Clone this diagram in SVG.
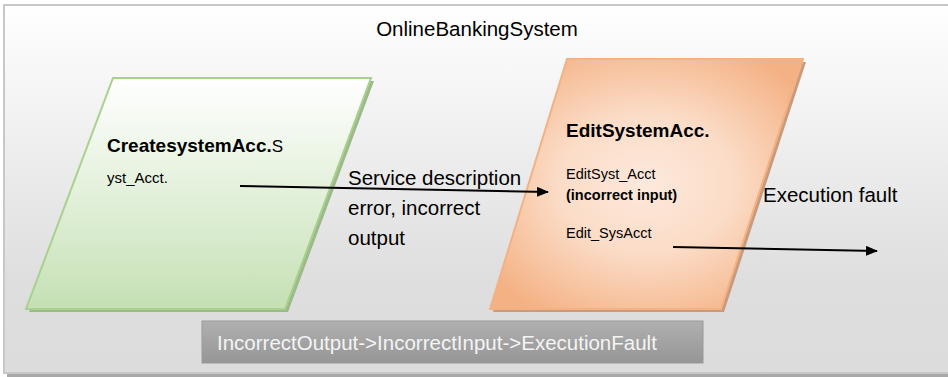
<svg xmlns="http://www.w3.org/2000/svg" width="948" height="377" viewBox="0 0 948 377">
  <defs>
    <linearGradient id="bgGrad" x1="0" y1="0" x2="0" y2="1">
      <stop offset="0" stop-color="#ffffff"/>
      <stop offset="0.75" stop-color="#dedede"/>
      <stop offset="1" stop-color="#dcdcdc"/>
    </linearGradient>
    <linearGradient id="greenGrad" x1="0" y1="0" x2="0" y2="1">
      <stop offset="0" stop-color="#ffffff"/>
      <stop offset="0.55" stop-color="#e0efd7"/>
      <stop offset="1" stop-color="#c5e0b4"/>
    </linearGradient>
    <radialGradient id="orangeGrad" cx="0.5" cy="0.5" r="0.62">
      <stop offset="0" stop-color="#fde9dc"/>
      <stop offset="0.45" stop-color="#fbdcc7"/>
      <stop offset="1" stop-color="#f4b183"/>
    </radialGradient>
    <linearGradient id="greyGrad" x1="0" y1="0" x2="0" y2="1">
      <stop offset="0" stop-color="#b0b0b0"/>
      <stop offset="1" stop-color="#969696"/>
    </linearGradient>
    <marker id="arrow" markerWidth="12" markerHeight="10" refX="11" refY="5" orient="auto" markerUnits="userSpaceOnUse">
      <path d="M0,0 L12,5 L0,10 Z" fill="#000"/>
    </marker>
    <style>
      .txt { font-family: "Liberation Sans", Arial, sans-serif; fill: #000; }
      .big { font-size: 20.5px; }
      .head { font-size: 19px; font-weight: bold; }
      .small { font-size: 14.5px; }
      .bold { font-weight: bold; }
      .conn { stroke: #000; stroke-width: 2; fill: none; marker-end: url(#arrow); }
    </style>
  </defs>

  <!-- container frame with shadow -->
  <g id="frame">
    <rect x="7" y="8" width="945" height="369" fill="#a8a8a8"/>
    <rect x="4" y="5" width="946" height="368" fill="url(#bgGrad)" stroke="#c8c8c8" stroke-width="2"/>
    <text class="txt big" x="477" y="36" text-anchor="middle">OnlineBankingSystem</text>
  </g>

  <!-- green service node -->
  <g id="create-node">
    <polygon points="116,81 374,81 288,312 29,312" fill="#9cb98a"/>
    <polygon points="113,78 371,78 285,309 26,309" fill="url(#greenGrad)" stroke="#a9d18e" stroke-width="2"/>
    <text class="txt" x="107" y="152"><tspan class="head">CreatesystemAcc.</tspan><tspan font-size="17">S</tspan></text>
    <text class="txt" font-size="15" x="107" y="183">yst_Acct.</text>
  </g>

  <!-- orange service node -->
  <g id="edit-node">
    <polygon points="570,62 806,62 724,312 493,312" fill="#c99a7c"/>
    <polygon points="567,59 803,59 721,309 490,309" fill="url(#orangeGrad)" stroke="#f4b183" stroke-width="2"/>
    <text class="txt head" x="566" y="137">EditSystemAcc.</text>
    <text class="txt small" x="566" y="179">EditSyst_Acct</text>
    <text class="txt small bold" x="566" y="200">(incorrect input)</text>
    <text class="txt small" x="566" y="238">Edit_SysAcct</text>
  </g>

  <!-- fault chain summary -->
  <g id="summary">
    <rect x="202" y="321" width="501" height="42" fill="url(#greyGrad)" stroke="#999" stroke-width="1"/>
    <text class="txt big" x="217" y="350" style="fill:#f4f4f4">IncorrectOutput-&gt;IncorrectInput-&gt;ExecutionFault</text>
  </g>

  <!-- connectors -->
  <g id="connectors">
    <line class="conn" x1="240" y1="186" x2="548" y2="192"/>
    <line class="conn" x1="673" y1="247" x2="877" y2="251"/>
  </g>

  <!-- connector labels -->
  <g id="labels">
    <text class="txt big" x="348" y="185">Service description</text>
    <text class="txt big" x="348" y="215">error, incorrect</text>
    <text class="txt big" x="348" y="245">output</text>
    <text class="txt big" x="763" y="202">Execution fault</text>
  </g>
</svg>
